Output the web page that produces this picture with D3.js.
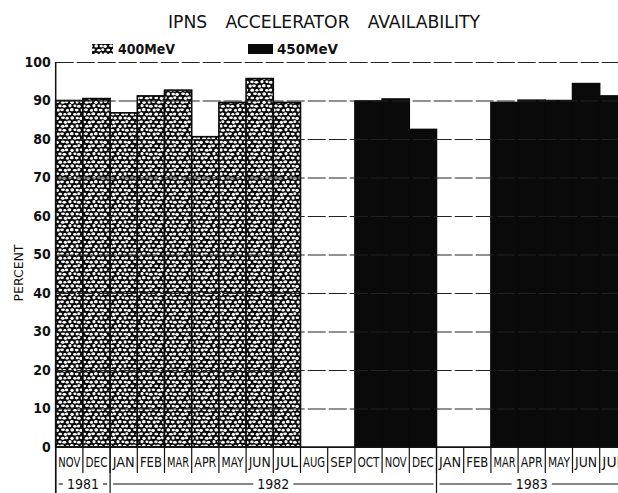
<html>
<head>
<script src="https://d3js.org/d3.v7.min.js"></script>
<style>
  body { margin: 0; background: #fff; }
  text { font-family: "Liberation Sans Narrow", "DejaVu Sans Condensed", "Roboto Condensed", sans-serif; fill: #111; }
</style>
</head>
<body>
<svg id="chart" width="618" height="493"></svg>
<script>
// month slots along the x axis (label + year)
const months = ["NOV 1981","DEC 1981","JAN 1982","FEB 1982","MAR 1982","APR 1982","MAY 1982",
  "JUN 1982","JUL 1982","AUG 1982","SEP 1982","OCT 1982","NOV 1982","DEC 1982",
  "JAN 1983","FEB 1983","MAR 1983","APR 1983","MAY 1983","JUN 1983","JUL 1983"];
const years = ["1981", "1982", "1983"];

// 400 MeV operation
const months400 = ["NOV 1981","DEC 1981","JAN 1982","FEB 1982","MAR 1982","APR 1982","MAY 1982","JUN 1982","JUL 1982"];
const values400 = [90, 90.5, 86.8, 91.2, 92.7, 80.6, 89.5, 95.7, 89.5];

// 450 MeV operation
const months450 = ["OCT 1982","NOV 1982","DEC 1982","MAR 1983","APR 1983","MAY 1983","JUN 1983","JUL 1983"];
const values450 = [89.9, 90.4, 82.5, 89.5, 90.1, 90, 94.4, 91.2];

const yTicks = [0, 10, 20, 30, 40, 50, 60, 70, 80, 90, 100];

const W = 618, H = 493;
const left = 55.7, step = 27.2;
const svg = d3.select("#chart");

const x = d3.scaleBand().domain(months).range([left, left + step * months.length]).padding(0);
const y = d3.scaleLinear().domain([0, 100]).range([447, 62]);

// cobblestone texture for the 400 MeV bars: white stones in a black net
const jit = [0.5,-0.4,0.2,0.6,-0.5,0.3,-0.2,0.4,-0.6,0.1,0.5,-0.3,0.0,-0.5,0.4,
  -0.1,0.6,-0.4,0.3,-0.2,0.5,-0.6,0.2,0.1,-0.3,0.4,-0.5,0.6,-0.1,0.3];
const stones = [];
for (let r = 0; r < 6; r++) {
  for (let c = 0; c < 5; c++) {
    const k = r * 5 + c;
    stones.push({
      cx: 2.4 + c * 4.8 + (r % 2 ? 2.4 : 0) + jit[k],
      cy: 2 + r * 4 + jit[(k + 7) % 30] * 0.6,
      rx: 1.75 + jit[(k + 3) % 30] * 0.4,
      ry: 1.45 + jit[(k + 11) % 30] * 0.35
    });
  }
}
const pat = svg.append("defs").append("pattern")
  .attr("id", "stone").attr("patternUnits", "userSpaceOnUse")
  .attr("width", 24).attr("height", 24);
pat.append("rect").attr("width", 24).attr("height", 24).attr("fill", "#0a0a0a");
[-24, 0, 24].forEach(ox => {
  pat.append("g").selectAll("ellipse").data(stones).join("ellipse")
    .attr("cx", d => d.cx + ox).attr("cy", d => d.cy).attr("rx", d => d.rx).attr("ry", d => d.ry)
    .attr("fill", "#fff");
});

// title
svg.append("text").attr("x", 168).attr("y", 28)
  .attr("font-size", 18).attr("textLength", 312).attr("lengthAdjust", "spacingAndGlyphs")
  .style("word-spacing", "12px")
  .text("IPNS  ACCELERATOR  AVAILABILITY");

// legend
svg.append("rect").attr("x", 92).attr("y", 44).attr("width", 21).attr("height", 10).attr("fill", "url(#stone)");
svg.append("text").attr("x", 118).attr("y", 54).attr("font-size", 14).attr("font-weight", "bold")
  .attr("textLength", 57).attr("lengthAdjust", "spacingAndGlyphs").text("400MeV");
svg.append("rect").attr("x", 248).attr("y", 44).attr("width", 25).attr("height", 10).attr("fill", "#0a0a0a");
svg.append("text").attr("x", 277).attr("y", 54).attr("font-size", 14).attr("font-weight", "bold")
  .attr("textLength", 61).attr("lengthAdjust", "spacingAndGlyphs").text("450MeV");

// bars
svg.append("g").selectAll("rect").data(months400).join("rect")
  .attr("x", d => x(d)).attr("width", x.bandwidth())
  .attr("y", (d, i) => y(values400[i])).attr("height", (d, i) => y(0) - y(values400[i]))
  .attr("fill", "url(#stone)").attr("stroke", "#0a0a0a").attr("stroke-width", 1.6);
svg.append("g").selectAll("rect").data(months450).join("rect")
  .attr("x", d => x(d)).attr("width", x.bandwidth())
  .attr("y", (d, i) => y(values450[i])).attr("height", (d, i) => y(0) - y(values450[i]))
  .attr("fill", "#0a0a0a").attr("stroke", "#0a0a0a").attr("stroke-width", 1.5);

// y axis with grid lines
const yAxis = svg.append("g").attr("transform", "translate(" + left + ",0)")
  .call(d3.axisLeft(y).tickValues(yTicks).tickSize(-(W - left)).tickSizeOuter(0).tickPadding(5));
yAxis.select(".domain").remove();
yAxis.selectAll(".tick line")
  .attr("stroke", "#222").attr("stroke-width", 1.1)
  .attr("stroke-dasharray", d => d === 0 ? null : "18,3");
yAxis.selectAll(".tick text")
  .attr("font-size", 14).attr("font-weight", "bold")
  .style("font-family", "'Liberation Sans Narrow', 'DejaVu Sans Condensed', sans-serif")
  .attr("fill", "#111");

// left axis line, down through the month / year rows
svg.append("line").attr("x1", left).attr("x2", left).attr("y1", y(100)).attr("y2", H)
  .attr("stroke", "#111").attr("stroke-width", 1.5);
svg.append("line").attr("x1", left).attr("x2", W).attr("y1", y(0)).attr("y2", y(0))
  .attr("stroke", "#111").attr("stroke-width", 1.5);

// y label
svg.append("text").attr("transform", "translate(23,273) rotate(-90)")
  .attr("text-anchor", "middle").attr("font-size", 13)
  .attr("textLength", 57).attr("lengthAdjust", "spacingAndGlyphs").text("PERCENT");

// month labels and separators
const mg = svg.append("g");
mg.selectAll("text").data(months).join("text")
  .attr("x", d => x(d) + x.bandwidth() / 2).attr("y", 467)
  .attr("text-anchor", "middle").attr("font-size", 14)
  .attr("textLength", 22).attr("lengthAdjust", "spacingAndGlyphs")
  .text(d => d.split(" ")[0]);
mg.selectAll("line").data(months.slice(1)).join("line")
  .attr("x1", d => x(d)).attr("x2", d => x(d)).attr("y1", y(0)).attr("y2", 473)
  .attr("stroke", "#111").attr("stroke-width", 1.2);

// year groups
years.forEach(yr => {
  const ms = months.filter(m => m.endsWith(yr));
  const x0 = x(ms[0]), x1 = x(ms[ms.length - 1]) + x.bandwidth();
  const cx = (x0 + x1) / 2;
  svg.append("line").attr("x1", x0).attr("x2", x0).attr("y1", y(0)).attr("y2", H)
    .attr("stroke", "#111").attr("stroke-width", 1.2);
  const t = svg.append("text").attr("x", cx).attr("y", 489).attr("text-anchor", "middle")
    .attr("font-size", 14).text(yr);
  const tw = t.node().getComputedTextLength();
  svg.append("line").attr("x1", x0 + 3).attr("x2", cx - tw / 2 - 4).attr("y1", 484).attr("y2", 484)
    .attr("stroke", "#111").attr("stroke-width", 1.1);
  svg.append("line").attr("x1", cx + tw / 2 + 4).attr("x2", x1 - 3).attr("y1", 484).attr("y2", 484)
    .attr("stroke", "#111").attr("stroke-width", 1.1);
});
</script>
</body>
</html>
